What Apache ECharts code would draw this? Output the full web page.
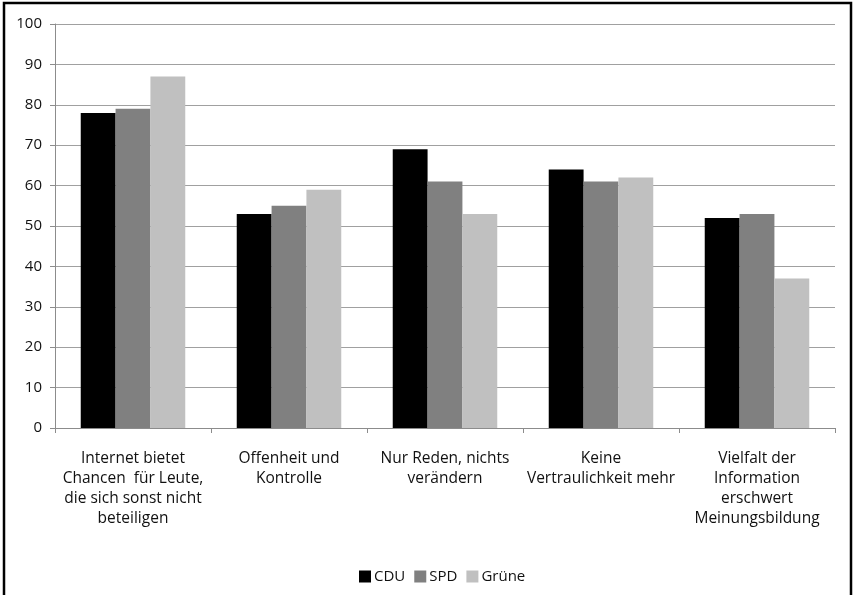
<!DOCTYPE html>
<html>
<head>
<meta charset="utf-8">
<script src="https://cdn.jsdelivr.net/npm/echarts@6/dist/echarts.min.js"></script>
<style>
  html, body { margin: 0; padding: 0; background: #fff; }
  #chart { width: 854px; height: 595px; }
</style>
</head>
<body>
<div id="chart"></div>
<script>
// Survey statements (x axis) and agreement share per party, in percent
const categories = [
  'Internet bietet\nChancen  für Leute,\ndie sich sonst nicht\nbeteiligen',
  'Offenheit und\nKontrolle',
  'Nur Reden, nichts\nverändern',
  'Keine\nVertraulichkeit mehr',
  'Vielfalt der\nInformation\nerschwert\nMeinungsbildung'
];
const cduValues = [78, 53, 69, 64, 52];
const spdValues = [79, 55, 61, 61, 53];
const grueneValues = [87, 59, 53, 62, 37];
const seriesNames = ['CDU', 'SPD', 'Grüne'];
const yTicks = { min: 0, max: 100, interval: 10 };

const fontFamily = '"Open Sans", Roboto, sans-serif';
const textColor = '#111111';
const colors = ['#000000', '#808080', '#c0c0c0'];

const chart = echarts.init(document.getElementById('chart'), null, { renderer: 'canvas' });

const seriesData = [cduValues, spdValues, grueneValues];

chart.setOption({
  animation: false,
  backgroundColor: '#ffffff',
  color: colors,
  textStyle: { fontFamily: fontFamily, color: textColor },
  grid: { left: 55, right: 19, top: 24, bottom: 167, containLabel: false },
  legend: {
    data: seriesNames,
    left: 354,
    top: 564,
    itemWidth: 12,
    itemHeight: 12,
    itemGap: 9,
    icon: 'rect',
    textStyle: { fontFamily: fontFamily, fontSize: 15, color: textColor, padding: [0, 0, 0, -2] }
  },
  xAxis: {
    type: 'category',
    data: categories,
    axisLine: { lineStyle: { color: '#8c8c8c', width: 1 } },
    axisTick: { show: true, length: 5, alignWithLabel: false, lineStyle: { color: '#8c8c8c' } },
    axisLabel: {
      interval: 0,
      margin: 21,
      fontSize: 15.5,
      lineHeight: 20,
      color: textColor,
      fontFamily: fontFamily,
      align: 'center'
    }
  },
  yAxis: {
    type: 'value',
    min: yTicks.min,
    max: yTicks.max,
    interval: yTicks.interval,
    axisLine: { show: true, lineStyle: { color: '#8c8c8c', width: 1 } },
    axisTick: { show: true, length: 5, lineStyle: { color: '#8c8c8c' } },
    splitLine: { lineStyle: { color: '#a0a0a0', width: 1 } },
    axisLabel: { margin: 13, fontSize: 15, color: textColor, fontFamily: fontFamily }
  },
  series: seriesNames.map((name, i) => ({
    name: name,
    type: 'bar',
    data: seriesData[i],
    barGap: '0%',
    barCategoryGap: '33%',
    itemStyle: { color: colors[i] }
  })),
  graphic: [{
    type: 'rect',
    silent: true,
    z: 100,
    shape: { x: 4, y: 3, width: 847, height: 610 },
    style: { fill: 'none', stroke: '#000000', lineWidth: 2.5 }
  }]
});
</script>
</body>
</html>
